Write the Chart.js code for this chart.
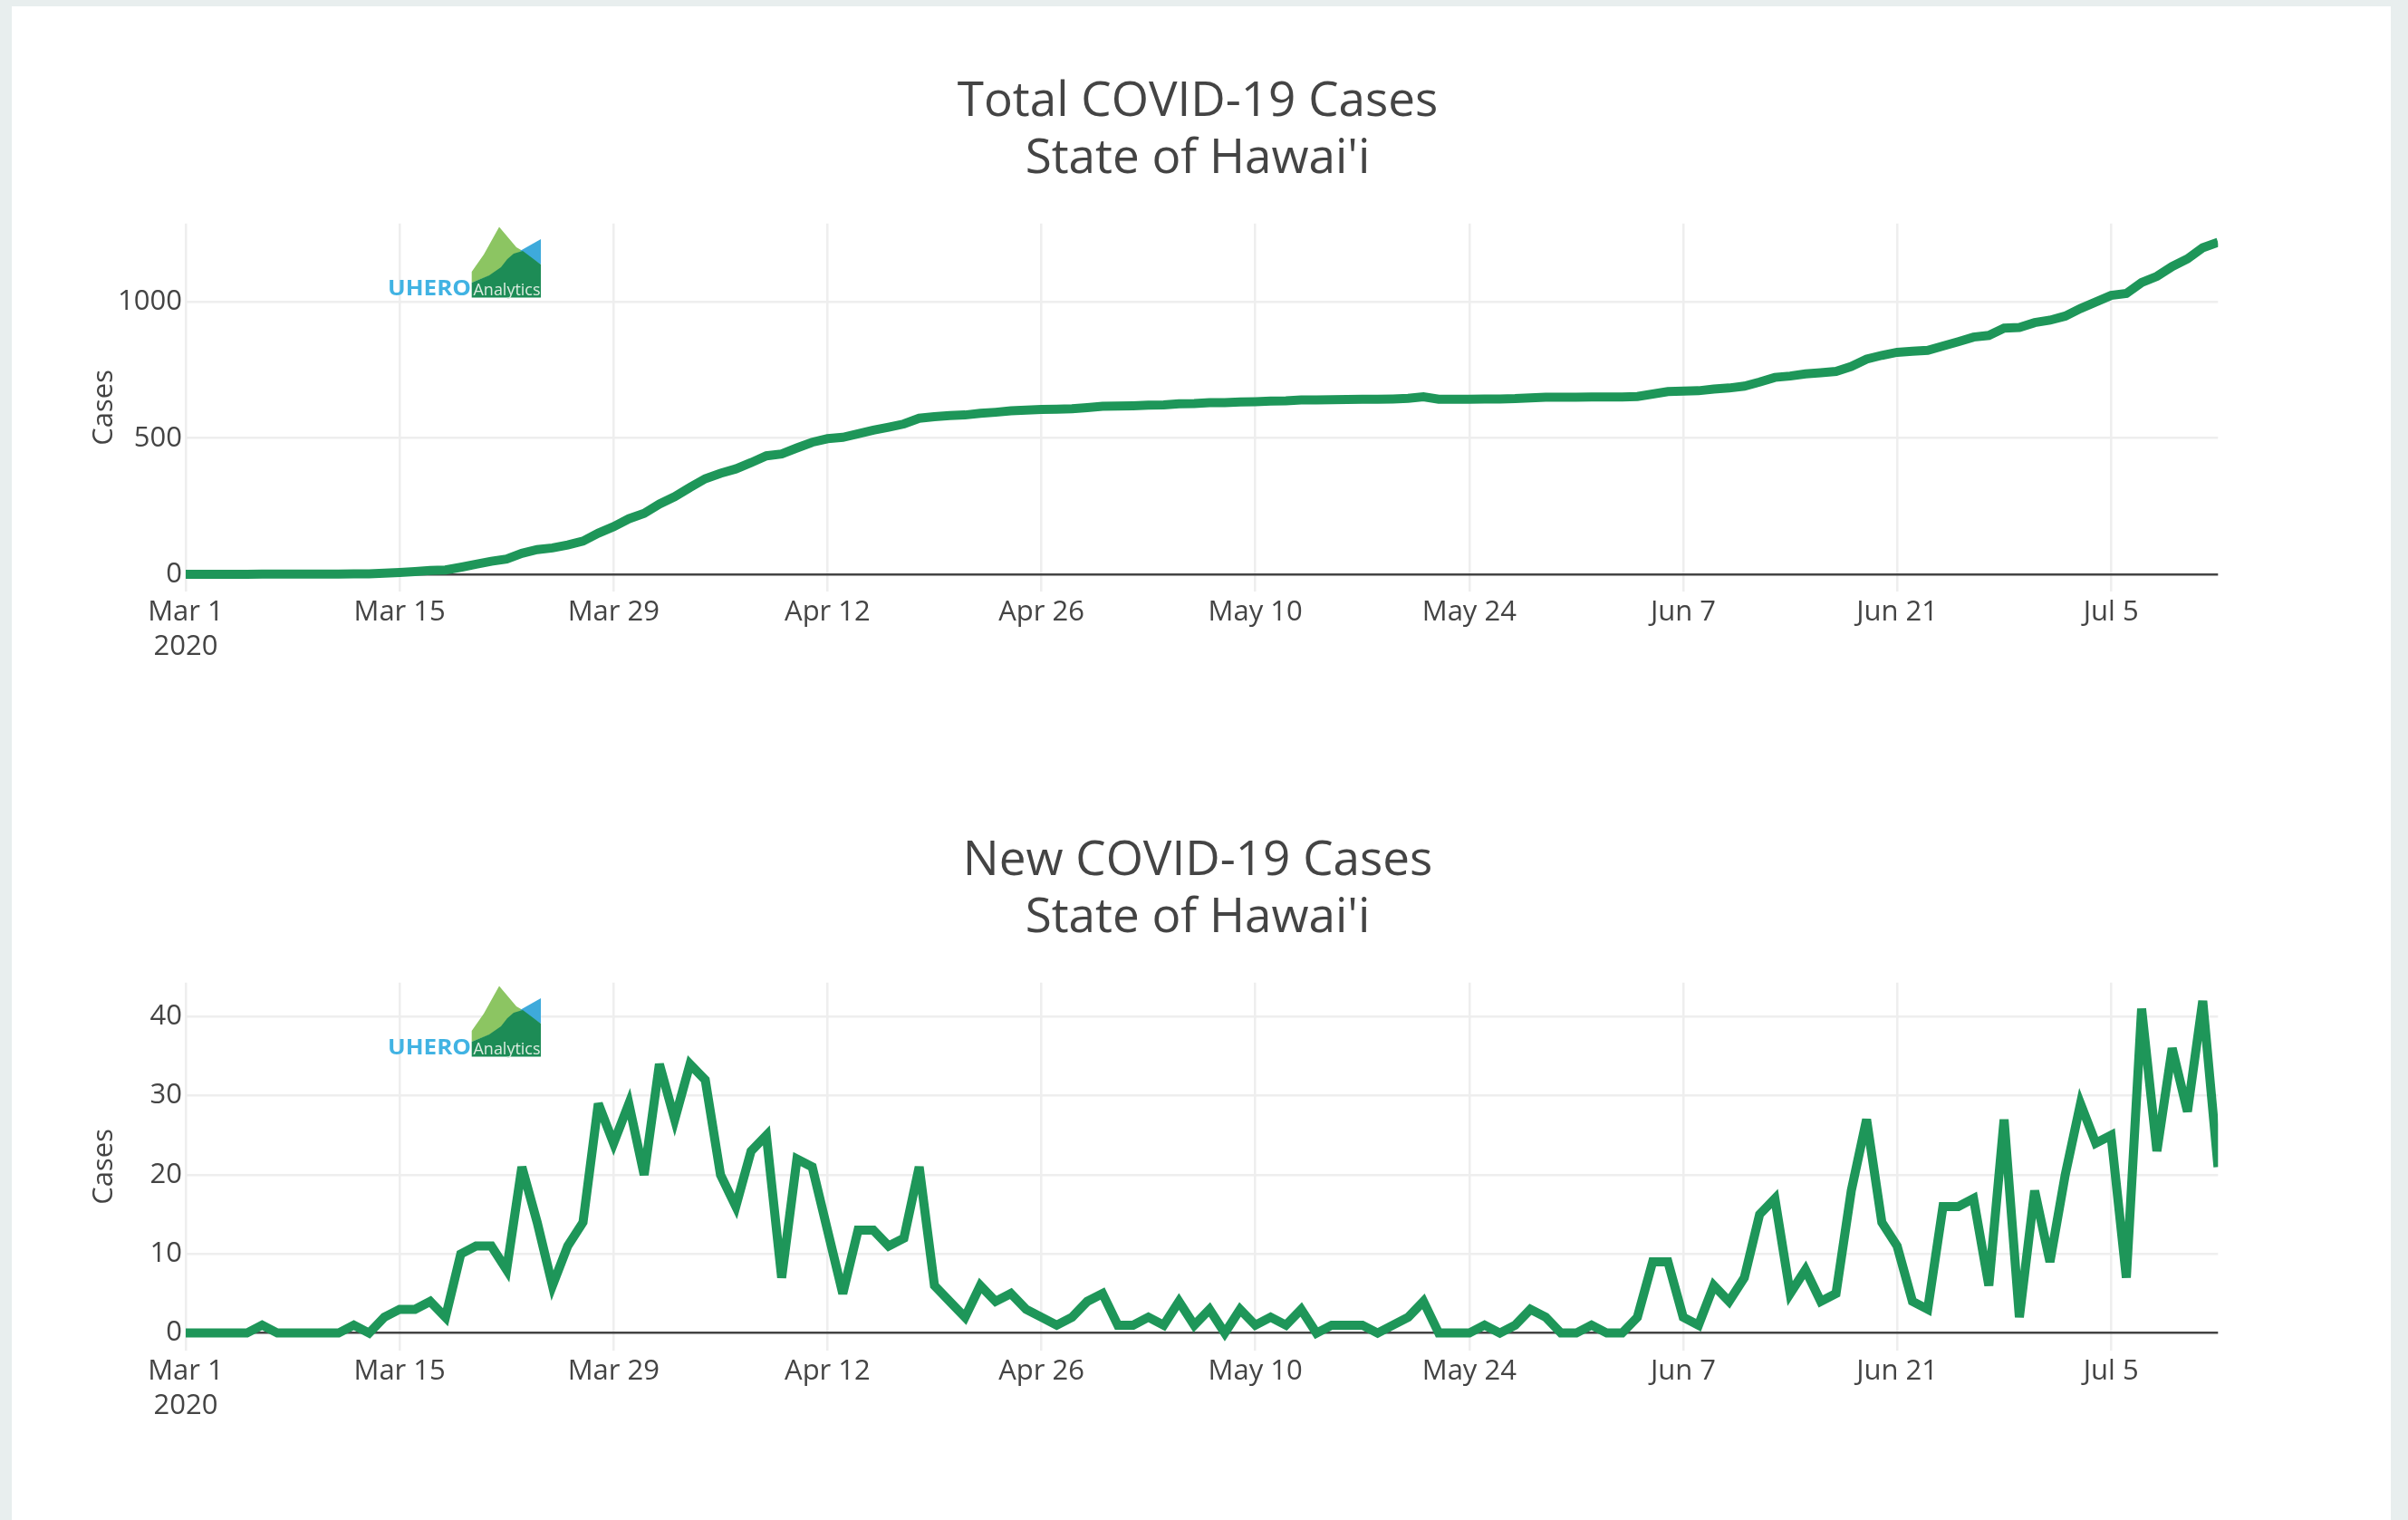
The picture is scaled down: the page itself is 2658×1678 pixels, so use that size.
<!DOCTYPE html>
<html><head><meta charset="utf-8">
<script src="https://cdn.jsdelivr.net/npm/chart.js@4.4.0/dist/chart.umd.min.js"></script>
<style>
html,body{margin:0;padding:0;background:#e8eeee;width:2658px;height:1678px;overflow:hidden;}
#panel{position:absolute;left:13px;top:7px;width:2626px;height:1671px;background:#ffffff;}
.wrap{position:absolute;left:0;width:2658px;height:760px;}
</style></head>
<body>
<div id="panel"></div>
<div class="wrap" style="top:0px"><canvas id="c1" width="2658" height="760"></canvas></div>
<div class="wrap" style="top:838px"><canvas id="c2" width="2658" height="760"></canvas></div>
<script>
// ---- data (day index 0 = Mar 1, 2020) ----
const startDate = '2020-03-01';
const totalCases = [
  0,0,0,0,0,1,1,1,1,1, 1,2,2,4,7,10,14,16,26,37,
  48,56,77,91,97,108,122,151,175,204, 224,258,285,319,351,371,387,410,435,442,
  464,485,498,503,516,529,540,552,573,579, 583,585,591,595,600,603,605,606,608,612,
  617,618,619,621,622,626,627,630,630,633, 634,636,637,640,640,641,642,643,643,644,
  646,652,643,643,643,644,644,645,648,650, 650,650,651,651,651,653,662,671,673,674,
  680,684,691,706,723,728,736,740,745,763, 790,804,815,819,822,838,854,871,877,904,
  906,924,933,948,976,1000,1024,1031,1071,1094, 1130,1158,1199,1219
];
const newCases = [
  0,0,0,0,0,1,0,0,0,0, 0,1,0,2,3,3,4,2,10,11,
  11,8,21,14,6,11,14,29,24,29, 20,34,27,34,32,20,16,23,25,7,
  22,21,13,5,13,13,11,12,21,6, 4,2,6,4,5,3,2,1,2,4,
  5,1,1,2,1,4,1,3,0,3, 1,2,1,3,0,1,1,1,0,1,
  2,4,0,0,0,1,0,1,3,2, 0,0,1,0,0,2,9,9,2,1,
  6,4,7,15,17,5,8,4,5,18, 27,14,11,4,3,16,16,17,6,27,
  2,18,9,20,29,24,25,7,41,23, 36,28,42,21
];
const xTickDays = [0,14,28,42,56,70,84,98,112,126];
const xTickLabels = [['Mar 1','2020'],'Mar 15','Mar 29','Apr 12','Apr 26','May 10','May 24','Jun 7','Jun 21','Jul 5'];
const totalTicks = [0,500,1000];
const newTicks = [0,10,20,30,40];
const totalTitle = ['Total COVID-19 Cases', "State of Hawai'i"];
const newTitle = ['New COVID-19 Cases', "State of Hawai'i"];
const yTitle = 'Cases';

// ---- styles ----
const FONT = "'Open Sans', 'DejaVu Sans', Arial, sans-serif";
const LINE = '#1e9659';
const TEXT = '#444444';
const GRID = '#eeeeee';

const joinPlugin = {
  id: 'joins',
  beforeDatasetsDraw(chart){ chart.ctx.miterLimit = 4; }
};

const logoPlugin = {
  id: 'logo',
  afterDatasetsDraw(chart){
    const ctx = chart.ctx, a = chart.chartArea;
    const ox = a.left + 222, oy = a.top + 2.3;
    const poly = (pts, col) => {
      ctx.beginPath();
      pts.forEach((p,i) => i ? ctx.lineTo(ox+p[0], oy+p[1]) : ctx.moveTo(ox+p[0], oy+p[1]));
      ctx.closePath(); ctx.fillStyle = col; ctx.fill();
    };
    ctx.save();
    poly([[93.7,51],[107,32],[124,1.5],[143,24],[150,28],[150,41],[93.7,63]], '#8cc562');
    poly([[147,28],[170,15],[170,43]], '#3eaadb');
    poly([[93.7,63],[113,55],[126,46],[133,37],[140,31],[150,28],[170,43],[170,79.5],[93.7,79.5]], '#1d8c56');
    ctx.textBaseline = 'alphabetic';
    ctx.textAlign = 'left';
    ctx.fillStyle = '#dcece0';
    ctx.font = "19px " + FONT;
    ctx.fillText('Analytics', ox + 95.5, oy + 76.5, 74);
    ctx.save();
    ctx.translate(ox + 1, oy + 77);
    ctx.scale(1.15, 1);
    ctx.fillStyle = '#41b3e3';
    ctx.font = "bold 23px " + FONT;
    ctx.fillText('UHERO', 0, 0, 80);
    ctx.restore();
    ctx.restore();
  }
};

function makeChart(id, values, yMin, yMax, yTicks, title){
  return new Chart(document.getElementById(id), {
    type: 'line',
    data: { datasets: [{
      data: values.map((v,i) => ({x: i, y: v})),
      borderColor: LINE, borderWidth: 10, pointRadius: 0, tension: 0, fill: false,
      borderJoinStyle: 'miter', borderCapStyle: 'butt'
    }]},
    options: {
      responsive: false, animation: false, events: [],
      layout: { padding: { left: 0, right: 14, top: 0, bottom: 0 } },
      plugins: {
        legend: { display: false }, tooltip: { enabled: false },
        title: { display: true, text: title, color: TEXT,
          font: { family: FONT, size: 53, weight: 'normal', lineHeight: 63/53 },
          padding: { top: 81.5, bottom: 39.2 } }
      },
      scales: {
        x: { type: 'linear', min: 0, max: 133, position: 'bottom', z: -1,
          afterFit: s => { s.height = 107; },
          afterBuildTicks: s => { s.ticks = xTickDays.map(v => ({value: v})); },
          ticks: { callback: v => xTickLabels[xTickDays.indexOf(v)], color: TEXT,
            font: { family: FONT, size: 31, lineHeight: 1.2 }, padding: 5, maxRotation: 0, autoSkip: false },
          grid: { color: GRID, lineWidth: 2.5, drawTicks: false },
          border: { display: false } },
        y: { type: 'linear', min: yMin, max: yMax, position: 'left',
          afterFit: s => { s.width = 205; },
          afterBuildTicks: s => { s.ticks = yTicks.map(v => ({value: v})); },
          ticks: { color: TEXT, font: { family: FONT, size: 31, lineHeight: 1.2 }, padding: 4, callback: v => String(v) },
          grid: { color: c => (c.tick && c.tick.value === 0) ? TEXT : GRID, lineWidth: 2.5, drawTicks: false },
          border: { display: false },
          title: { display: true, text: yTitle, color: TEXT,
            font: { family: FONT, size: 31, lineHeight: 1.2 }, padding: { top: 96.4, bottom: 0 } } },
        yr: { type: 'linear', position: 'right',
          afterFit: s => { s.width = 2644 - 2448.3; },
          ticks: { display: false }, grid: { display: false }, border: { display: false } }
      }
    },
    plugins: [joinPlugin, logoPlugin]
  });
}

makeChart('c1', totalCases, -63, 1288, totalTicks, totalTitle);
makeChart('c2', newCases, -2.22, 44.31, newTicks, newTitle);
</script>
</body></html>
